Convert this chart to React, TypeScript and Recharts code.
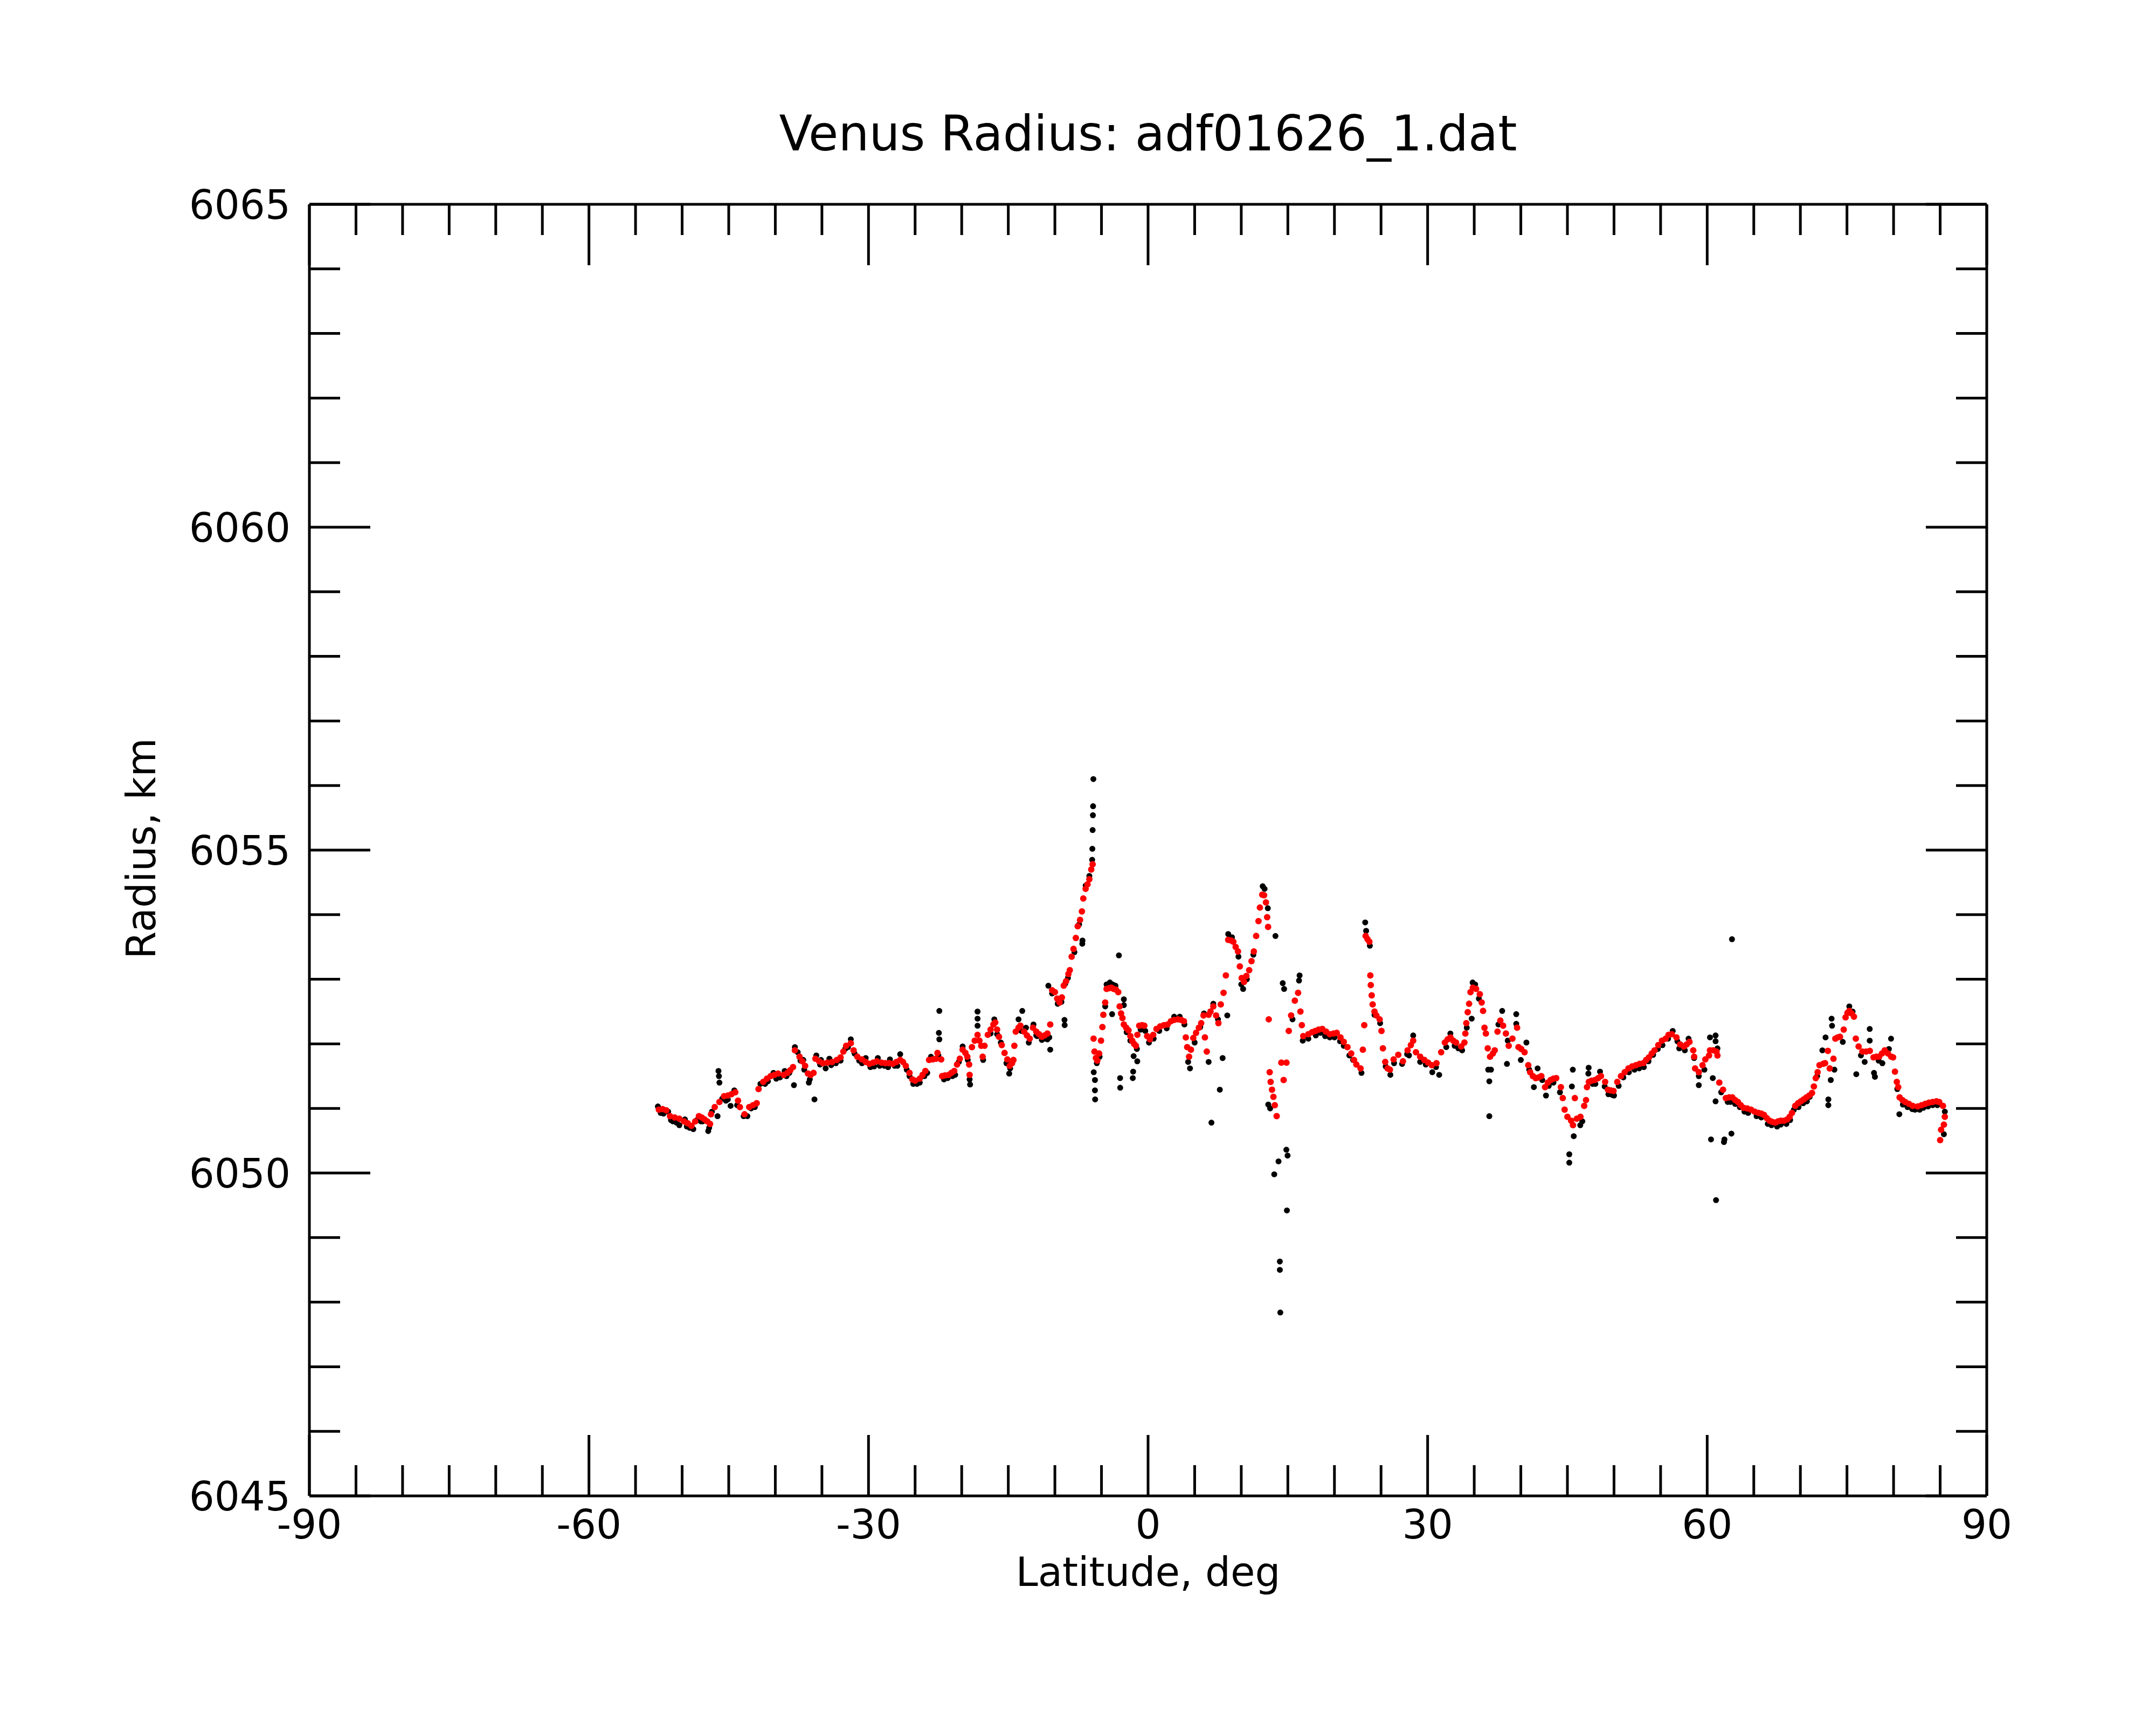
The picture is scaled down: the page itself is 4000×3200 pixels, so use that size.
import React from "react";
import { ScatterChart, Scatter, XAxis, YAxis } from "recharts";

// smoothed radius (red) as [latitude, radius km]
const smoothPoints: [number, number][] = [
  [-52.5, 6050.98], [-52.1, 6050.99], [-51.7, 6050.97], [-51.3, 6050.88], [-50.8, 6050.86],
  [-50.3, 6050.84], [-49.8, 6050.8], [-49.4, 6050.77], [-49.0, 6050.73], [-48.6, 6050.8],
  [-48.2, 6050.88], [-47.9, 6050.86], [-47.6, 6050.83], [-47.3, 6050.8], [-47.0, 6050.76],
  [-46.9, 6050.91], [-46.5, 6051.02], [-46.0, 6051.1], [-45.5, 6051.19], [-45.1, 6051.2],
  [-44.7, 6051.22], [-44.3, 6051.25], [-44.0, 6051.12], [-43.8, 6051.02], [-43.3, 6050.91],
  [-42.8, 6051.02], [-42.4, 6051.05], [-42.0, 6051.08], [-41.8, 6051.3], [-41.3, 6051.41],
  [-40.9, 6051.46], [-40.5, 6051.5], [-40.1, 6051.52], [-39.7, 6051.54], [-39.1, 6051.52],
  [-38.7, 6051.55], [-38.4, 6051.59], [-38.1, 6051.64], [-37.9, 6051.9], [-37.4, 6051.8],
  [-37.1, 6051.73], [-36.8, 6051.66], [-36.5, 6051.54], [-36.2, 6051.52], [-35.9, 6051.55],
  [-35.7, 6051.77], [-35.3, 6051.73], [-34.9, 6051.7], [-34.4, 6051.71], [-33.9, 6051.72],
  [-33.4, 6051.75], [-33.0, 6051.79], [-32.7, 6051.88], [-32.4, 6051.97], [-31.9, 6052.01],
  [-31.6, 6051.9], [-31.2, 6051.8], [-30.7, 6051.76], [-30.3, 6051.72], [-29.9, 6051.69],
  [-29.5, 6051.71], [-29.1, 6051.73], [-28.6, 6051.71], [-28.2, 6051.7], [-27.8, 6051.7],
  [-27.4, 6051.69], [-27.0, 6051.72], [-26.6, 6051.75], [-26.3, 6051.72], [-26.0, 6051.66],
  [-25.6, 6051.55], [-25.3, 6051.45], [-25.0, 6051.43], [-24.5, 6051.46], [-24.2, 6051.52],
  [-23.9, 6051.58], [-23.5, 6051.75], [-23.1, 6051.76], [-22.75, 6051.77], [-22.6, 6051.86],
  [-22.2, 6051.76], [-22.1, 6051.5], [-21.8, 6051.51], [-21.4, 6051.52], [-21.1, 6051.55],
  [-20.8, 6051.58], [-20.5, 6051.68], [-20.2, 6051.77], [-19.9, 6051.91], [-19.6, 6051.86],
  [-19.4, 6051.8], [-19.2, 6051.68], [-19.15, 6051.52], [-18.9, 6051.95], [-18.6, 6052.05],
  [-18.3, 6052.14], [-18.1, 6052.05], [-17.9, 6051.97], [-17.75, 6051.8], [-17.55, 6051.97],
  [-17.2, 6052.14], [-16.9, 6052.22], [-16.6, 6052.3], [-16.4, 6052.33], [-16.2, 6052.22],
  [-16.0, 6052.11], [-15.7, 6051.98], [-15.4, 6051.86], [-15.1, 6051.76], [-14.85, 6051.66],
  [-14.6, 6051.7], [-14.45, 6051.75], [-14.35, 6051.97], [-14.2, 6052.19], [-13.9, 6052.25],
  [-13.7, 6052.28], [-13.3, 6052.19], [-13.0, 6052.13], [-12.7, 6052.08], [-12.35, 6052.25],
  [-12.0, 6052.19], [-11.7, 6052.15], [-11.4, 6052.11], [-11.1, 6052.13], [-10.8, 6052.16],
  [-10.5, 6052.3], [-10.3, 6052.83], [-10.0, 6052.8], [-9.75, 6052.7], [-9.5, 6052.64],
  [-9.25, 6052.72], [-9.05, 6052.9], [-8.8, 6052.97], [-8.55, 6053.08], [-8.4, 6053.14],
  [-8.2, 6053.35], [-8.0, 6053.47], [-7.75, 6053.64], [-7.55, 6053.82], [-7.3, 6053.92],
  [-7.1, 6054.05], [-6.95, 6054.25], [-6.7, 6054.4], [-6.5, 6054.47], [-6.3, 6054.55],
  [-6.1, 6054.7], [-5.95, 6054.78], [-5.85, 6052.08], [-5.75, 6051.88], [-5.6, 6051.78],
  [-5.45, 6051.74], [-5.25, 6051.85], [-5.05, 6052.05], [-4.9, 6052.26], [-4.8, 6052.45],
  [-4.6, 6052.64], [-4.45, 6052.85], [-4.2, 6052.86], [-3.95, 6052.87], [-3.7, 6052.85],
  [-3.45, 6052.84], [-3.2, 6052.8], [-3.05, 6052.58], [-2.9, 6052.47], [-2.75, 6052.4],
  [-2.6, 6052.3], [-2.35, 6052.25], [-2.1, 6052.21], [-1.9, 6052.12], [-1.7, 6052.05],
  [-1.5, 6052.0], [-1.3, 6051.97], [-1.15, 6052.14], [-0.95, 6052.28], [-0.65, 6052.29],
  [-0.4, 6052.28], [-0.1, 6052.12], [0.2, 6052.07], [0.55, 6052.14], [0.9, 6052.23],
  [1.3, 6052.27], [1.7, 6052.29], [2.1, 6052.3], [2.45, 6052.35], [2.8, 6052.37],
  [3.2, 6052.38], [3.55, 6052.37], [3.85, 6052.35], [4.05, 6052.1], [4.2, 6051.95],
  [4.4, 6051.8], [4.6, 6051.91], [4.85, 6052.09], [5.15, 6052.17], [5.45, 6052.25],
  [5.7, 6052.32], [5.95, 6052.44], [6.1, 6052.1], [6.3, 6051.88], [6.5, 6052.45],
  [6.7, 6052.5], [7.0, 6052.58], [7.3, 6052.44], [7.55, 6052.32], [7.8, 6052.61],
  [8.1, 6052.79], [8.35, 6053.06], [8.6, 6053.61], [8.9, 6053.6], [9.15, 6053.58],
  [9.4, 6053.5], [9.65, 6053.43], [9.85, 6053.2], [10.05, 6053.02], [10.3, 6052.96],
  [10.55, 6053.05], [10.85, 6053.14], [11.1, 6053.28], [11.35, 6053.43], [11.6, 6053.67],
  [11.85, 6053.9], [12.0, 6054.11], [12.25, 6054.31], [12.45, 6054.3], [12.65, 6054.19],
  [12.78, 6053.96], [12.88, 6053.81], [12.95, 6052.38], [13.05, 6051.56], [13.15, 6051.41],
  [13.3, 6051.29], [13.45, 6051.18], [13.6, 6051.05], [13.8, 6050.88], [14.3, 6051.71],
  [14.55, 6051.44], [14.85, 6051.71], [15.1, 6052.2], [15.35, 6052.44], [15.75, 6052.67],
  [16.1, 6052.79], [16.35, 6052.5], [16.5, 6052.29], [16.65, 6052.12], [17.2, 6052.15],
  [17.6, 6052.18], [17.95, 6052.2], [18.3, 6052.22], [18.7, 6052.23], [19.1, 6052.19],
  [19.5, 6052.15], [19.9, 6052.16], [20.25, 6052.17], [20.65, 6052.1], [21.0, 6052.03],
  [21.4, 6051.95], [21.8, 6051.85], [22.1, 6051.75], [22.35, 6051.68], [22.8, 6051.62],
  [23.05, 6051.91], [23.2, 6052.29], [23.35, 6053.67], [23.55, 6053.62], [23.75, 6053.58],
  [23.85, 6053.06], [23.9, 6052.91], [24.0, 6052.75], [24.1, 6052.61], [24.3, 6052.5],
  [24.5, 6052.44], [24.85, 6052.38], [25.05, 6052.2], [25.2, 6051.93], [25.45, 6051.72],
  [25.7, 6051.62], [25.95, 6051.6], [26.35, 6051.76], [26.85, 6051.83], [27.35, 6051.73],
  [27.85, 6051.9], [28.2, 6051.98], [28.45, 6052.05], [28.75, 6051.87], [29.2, 6051.8],
  [29.65, 6051.75], [30.05, 6051.71], [30.45, 6051.67], [30.95, 6051.7], [31.45, 6051.87],
  [31.85, 6052.02], [32.15, 6052.07], [32.45, 6052.1], [32.75, 6052.05], [33.05, 6052.02],
  [33.6, 6051.96], [33.95, 6052.02], [34.05, 6052.16], [34.15, 6052.32], [34.3, 6052.49],
  [34.45, 6052.62], [34.6, 6052.8], [34.85, 6052.87], [35.2, 6052.85], [35.6, 6052.77],
  [35.8, 6052.64], [35.95, 6052.51], [36.1, 6052.25], [36.25, 6052.16], [36.45, 6051.93],
  [36.7, 6051.8], [37.0, 6051.85], [37.2, 6051.9], [37.5, 6052.19], [37.8, 6052.36],
  [38.1, 6052.28], [38.4, 6052.16], [38.7, 6051.97], [39.1, 6052.08], [39.6, 6052.25],
  [39.75, 6051.95], [40.05, 6051.92], [40.4, 6051.87], [40.8, 6051.67], [41.0, 6051.56],
  [41.3, 6051.5], [41.6, 6051.47], [41.9, 6051.48], [42.2, 6051.5], [42.6, 6051.33],
  [42.9, 6051.4], [43.2, 6051.44], [43.5, 6051.46], [43.8, 6051.47], [44.3, 6051.33],
  [44.5, 6051.16], [44.7, 6050.98], [45.0, 6050.87], [45.4, 6050.81], [45.6, 6050.74],
  [45.8, 6051.16], [46.0, 6050.84], [46.4, 6050.87], [46.8, 6051.04], [47.0, 6051.13],
  [47.1, 6051.33], [47.3, 6051.41], [47.6, 6051.43], [47.95, 6051.44], [48.3, 6051.47],
  [48.6, 6051.5], [49.05, 6051.41], [49.35, 6051.29], [49.65, 6051.28], [49.95, 6051.27],
  [50.35, 6051.41], [50.75, 6051.5], [51.15, 6051.56], [51.55, 6051.62], [51.95, 6051.65],
  [52.35, 6051.67], [52.75, 6051.69], [53.15, 6051.7], [53.45, 6051.75], [53.75, 6051.79],
  [54.05, 6051.85], [54.35, 6051.9], [54.75, 6051.98], [55.15, 6052.05], [55.55, 6052.08],
  [55.85, 6052.14], [56.2, 6052.15], [56.7, 6052.1], [57.1, 6051.99], [57.5, 6051.96],
  [57.8, 6051.99], [58.1, 6052.03], [58.5, 6051.9], [58.6, 6051.8], [58.7, 6051.62],
  [59.1, 6051.56], [59.5, 6051.67], [59.8, 6051.76], [60.2, 6051.82], [60.3, 6051.9],
  [60.65, 6051.9], [61.0, 6051.88], [61.1, 6051.82], [61.3, 6051.4], [61.7, 6051.29],
  [62.0, 6051.16], [62.35, 6051.17], [62.7, 6051.17], [63.0, 6051.13], [63.3, 6051.1],
  [63.6, 6051.05], [63.9, 6051.01], [64.3, 6051.0], [64.7, 6050.98], [65.1, 6050.95],
  [65.5, 6050.93], [65.8, 6050.92], [66.1, 6050.9], [66.4, 6050.85], [66.7, 6050.81],
  [67.0, 6050.79], [67.3, 6050.78], [67.6, 6050.8], [67.9, 6050.81], [68.25, 6050.81],
  [68.6, 6050.83], [68.85, 6050.87], [69.1, 6050.93], [69.45, 6051.04], [69.75, 6051.08],
  [70.05, 6051.11], [70.35, 6051.14], [70.65, 6051.17], [70.95, 6051.2], [71.25, 6051.24],
  [71.45, 6051.34], [71.65, 6051.47], [71.85, 6051.56], [72.05, 6051.67], [72.45, 6051.69],
  [72.65, 6051.7], [72.95, 6051.89], [73.15, 6051.62], [73.55, 6051.77], [73.75, 6052.08],
  [74.0, 6052.1], [74.25, 6052.11], [74.65, 6052.22], [74.85, 6052.41], [75.05, 6052.48],
  [75.25, 6052.51], [75.5, 6052.47], [75.75, 6052.42], [75.95, 6052.08], [76.25, 6051.96],
  [76.65, 6051.88], [77.05, 6051.88], [77.45, 6051.89], [77.85, 6051.79], [78.15, 6051.8],
  [78.45, 6051.8], [78.75, 6051.85], [79.05, 6051.9], [79.4, 6051.85], [79.75, 6051.8],
  [79.95, 6051.79], [80.15, 6051.57], [80.35, 6051.41], [80.5, 6051.33], [80.65, 6051.17],
  [80.95, 6051.13], [81.25, 6051.1], [81.65, 6051.07], [82.05, 6051.04], [82.6, 6051.03],
  [83.0, 6051.05], [83.4, 6051.07], [83.8, 6051.09], [84.2, 6051.1], [84.6, 6051.11],
  [84.9, 6051.1], [85.3, 6051.04], [85.5, 6050.87], [85.4, 6050.75], [85.1, 6050.67],
  [85.0, 6050.51],
];

// raw radius (black) as [latitude, radius km]
const rawPoints: [number, number][] = [
  [-52.6, 6051.03], [-52.3, 6050.93], [-52.0, 6050.92], [-51.5, 6050.95], [-51.2, 6050.82],
  [-51.0, 6050.8], [-50.6, 6050.78], [-50.3, 6050.74], [-49.7, 6050.83], [-49.5, 6050.72],
  [-49.2, 6050.7], [-48.8, 6050.68], [-48.4, 6050.82], [-48.0, 6050.8], [-47.8, 6050.8],
  [-47.2, 6050.65], [-47.1, 6050.7], [-46.8, 6050.95], [-46.2, 6050.88], [-46.1, 6051.58],
  [-46.05, 6051.5], [-46.0, 6051.4], [-45.7, 6051.15], [-45.3, 6051.12], [-45.1, 6051.14],
  [-44.8, 6051.04], [-44.4, 6051.28], [-44.1, 6051.05], [-43.4, 6050.88], [-43.0, 6050.88],
  [-42.6, 6051.0], [-42.2, 6051.02], [-41.6, 6051.38], [-41.1, 6051.38], [-40.8, 6051.42],
  [-40.2, 6051.55], [-39.9, 6051.46], [-39.5, 6051.48], [-39.0, 6051.58], [-38.8, 6051.5],
  [-38.5, 6051.55], [-38.0, 6051.36], [-37.9, 6051.95], [-37.6, 6051.87], [-37.3, 6051.74],
  [-37.0, 6051.75], [-36.9, 6051.6], [-36.4, 6051.4], [-36.3, 6051.45], [-35.8, 6051.14],
  [-35.6, 6051.82], [-35.2, 6051.68], [-35.1, 6051.75], [-34.6, 6051.62], [-34.2, 6051.77],
  [-34.0, 6051.67], [-33.5, 6051.7], [-33.0, 6051.74], [-32.5, 6051.92], [-32.2, 6051.95],
  [-31.9, 6052.07], [-31.5, 6051.85], [-31.0, 6051.74], [-30.7, 6051.7], [-30.3, 6051.78],
  [-29.8, 6051.64], [-29.4, 6051.65], [-29.0, 6051.78], [-28.8, 6051.66], [-28.3, 6051.66],
  [-27.9, 6051.64], [-27.7, 6051.76], [-27.2, 6051.66], [-26.9, 6051.66], [-26.6, 6051.84],
  [-25.9, 6051.6], [-25.6, 6051.5], [-25.2, 6051.38], [-24.8, 6051.38], [-24.5, 6051.4],
  [-24.0, 6051.5], [-23.7, 6051.55], [-23.3, 6051.8], [-22.4, 6052.51], [-22.45, 6052.17],
  [-22.4, 6052.07], [-22.5, 6051.82], [-21.9, 6051.45], [-21.5, 6051.47], [-21.0, 6051.5],
  [-20.7, 6051.52], [-20.3, 6051.72], [-19.9, 6051.96], [-19.35, 6051.75], [-19.1, 6051.37],
  [-19.15, 6051.45], [-18.3, 6052.5], [-18.3, 6052.39], [-18.3, 6052.28], [-17.7, 6051.75],
  [-16.9, 6052.16], [-16.5, 6052.38], [-16.2, 6052.15], [-15.8, 6052.02], [-15.2, 6051.7],
  [-14.9, 6051.54], [-14.8, 6051.62], [-13.9, 6052.38], [-13.6, 6052.2], [-13.5, 6052.51],
  [-13.1, 6052.25], [-12.8, 6052.02], [-12.3, 6052.3], [-12.0, 6052.13], [-11.9, 6052.12],
  [-11.4, 6052.06], [-11.1, 6052.08], [-10.8, 6052.07], [-10.6, 6052.1], [-10.5, 6051.91],
  [-10.7, 6052.9], [-10.3, 6052.78], [-9.7, 6052.62], [-9.3, 6052.65], [-8.97, 6052.37],
  [-8.95, 6052.29], [-8.9, 6052.93], [-8.6, 6053.02], [-7.9, 6053.42], [-7.4, 6053.85],
  [-7.04, 6053.6], [-7.06, 6053.55], [-6.7, 6054.45], [-6.3, 6054.6], [-6.0, 6054.85],
  [-5.98, 6055.02], [-5.95, 6055.31], [-5.92, 6055.54], [-5.9, 6055.68], [-5.87, 6056.1],
  [-5.83, 6051.56], [-5.7, 6051.44], [-5.7, 6051.28], [-5.68, 6051.14], [-5.5, 6051.7],
  [-5.2, 6051.8], [-4.6, 6052.58], [-4.45, 6052.92], [-4.1, 6052.95], [-3.8, 6052.92],
  [-3.5, 6052.9], [-3.86, 6052.46], [-3.13, 6053.37], [-3.0, 6051.47], [-2.99, 6051.32],
  [-2.6, 6052.69], [-2.6, 6052.6], [-2.3, 6052.18], [-1.9, 6052.05], [-1.64, 6051.47],
  [-1.6, 6051.57], [-1.55, 6051.81], [-1.16, 6051.73], [-1.2, 6051.92], [-0.8, 6052.22],
  [-0.3, 6052.2], [0.1, 6052.02], [0.6, 6052.08], [1.2, 6052.2], [2.0, 6052.24],
  [2.8, 6052.42], [3.4, 6052.42], [3.9, 6052.3], [4.3, 6051.72], [4.5, 6051.62],
  [5.0, 6052.02], [5.6, 6052.26], [6.0, 6052.47], [6.5, 6051.72], [6.8, 6050.78],
  [7.0, 6052.62], [7.5, 6052.38], [7.7, 6051.29], [8.0, 6051.78], [8.5, 6052.44],
  [8.6, 6053.7], [9.0, 6053.65], [9.7, 6053.35], [10.0, 6052.92], [10.2, 6052.85],
  [10.6, 6053.0], [11.3, 6053.38], [12.3, 6054.44], [12.5, 6054.4], [12.85, 6054.1],
  [13.67, 6053.67], [12.9, 6051.06], [13.1, 6051.0], [13.54, 6049.98], [14.0, 6050.18],
  [14.84, 6050.36], [14.97, 6050.27], [14.9, 6049.42], [14.14, 6048.63], [14.14, 6048.5],
  [14.19, 6047.84], [14.45, 6052.94], [14.6, 6052.85], [16.26, 6053.06], [16.2, 6052.98],
  [15.5, 6052.38], [16.6, 6052.05], [17.2, 6052.08], [18.0, 6052.13], [18.5, 6052.17],
  [19.0, 6052.12], [19.5, 6052.1], [20.0, 6052.1], [20.6, 6052.04], [21.0, 6051.97],
  [21.6, 6051.82], [22.0, 6051.75], [22.9, 6051.55], [23.3, 6053.88], [23.4, 6053.75],
  [23.8, 6053.52], [24.3, 6052.45], [24.9, 6052.32], [25.5, 6051.65], [26.0, 6051.52],
  [26.4, 6051.7], [27.26, 6051.69], [27.8, 6051.84], [28.0, 6051.82], [28.45, 6052.13],
  [29.2, 6051.72], [29.8, 6051.68], [30.5, 6051.56], [30.9, 6051.64], [31.24, 6051.52],
  [32.0, 6051.95], [32.44, 6052.16], [32.9, 6051.97], [33.3, 6051.93], [33.7, 6051.9],
  [34.2, 6052.25], [34.73, 6052.39], [34.83, 6052.95], [35.1, 6052.92], [35.5, 6052.7],
  [36.62, 6050.88], [36.62, 6051.42], [36.5, 6051.6], [36.8, 6051.6], [37.6, 6052.3],
  [38.0, 6052.51], [38.51, 6051.69], [38.6, 6052.05], [39.51, 6052.46], [39.51, 6052.31],
  [40.0, 6051.75], [40.6, 6052.02], [40.9, 6051.6], [41.4, 6051.33], [41.8, 6051.62],
  [42.3, 6051.44], [42.7, 6051.2], [43.0, 6051.35], [43.5, 6051.4], [44.2, 6051.25],
  [45.2, 6050.29], [45.2, 6050.16], [45.68, 6050.57], [45.48, 6051.34], [45.58, 6051.6],
  [46.38, 6050.74], [46.6, 6050.8], [47.28, 6051.63], [47.25, 6051.54], [47.7, 6051.38],
  [48.0, 6051.38], [48.5, 6051.57], [49.0, 6051.34], [49.4, 6051.22], [49.8, 6051.21],
  [50.0, 6051.2], [50.5, 6051.35], [51.0, 6051.48], [51.6, 6051.56], [52.2, 6051.6],
  [52.7, 6051.62], [53.2, 6051.64], [53.7, 6051.73], [54.2, 6051.83], [54.7, 6051.92],
  [55.2, 6051.98], [55.8, 6052.08], [56.3, 6052.2], [56.8, 6052.04], [57.0, 6051.93],
  [57.6, 6051.9], [58.0, 6052.08], [58.6, 6051.78], [59.1, 6051.36], [59.1, 6051.5],
  [59.7, 6051.6], [60.3, 6052.1], [60.9, 6052.13], [60.9, 6052.04], [61.1, 6051.93],
  [60.6, 6051.47], [60.9, 6051.11], [60.41, 6050.52], [60.95, 6049.58], [61.8, 6050.48],
  [61.85, 6050.52], [62.6, 6050.61], [62.66, 6053.62], [61.5, 6051.25], [62.2, 6051.1],
  [62.5, 6051.1], [63.0, 6051.07], [63.5, 6051.02], [64.0, 6050.95], [64.4, 6050.93],
  [65.3, 6050.88], [65.8, 6050.86], [66.5, 6050.76], [66.9, 6050.74], [67.5, 6050.72],
  [67.9, 6050.75], [68.5, 6050.76], [68.9, 6050.82], [69.3, 6050.98], [69.8, 6051.02],
  [70.3, 6051.08], [70.7, 6051.11], [71.0, 6051.18], [71.8, 6051.5], [72.36, 6051.9],
  [72.7, 6052.1], [73.0, 6051.14], [73.0, 6051.05], [73.26, 6051.44], [73.35, 6052.39],
  [73.4, 6052.28], [73.65, 6051.6], [74.55, 6052.03], [75.25, 6052.58], [75.6, 6052.5],
  [76.0, 6051.53], [76.5, 6051.82], [76.9, 6051.72], [77.44, 6052.23], [77.44, 6052.05],
  [77.9, 6051.55], [78.0, 6051.49], [78.4, 6051.74], [78.8, 6051.7], [79.73, 6052.08],
  [79.5, 6051.92], [80.62, 6050.91], [80.4, 6051.3], [81.0, 6051.06], [81.5, 6051.02],
  [82.0, 6050.99], [82.3, 6050.98], [82.8, 6050.98], [83.2, 6051.01], [83.7, 6051.03],
  [84.2, 6051.05], [84.7, 6051.05], [85.4, 6050.6], [85.5, 6050.95],
];

const xTicks = [-90, -85, -80, -75, -70, -65, -60, -55, -50, -45, -40, -35, -30, -25, -20, -15, -10, -5,
  0, 5, 10, 15, 20, 25, 30, 35, 40, 45, 50, 55, 60, 65, 70, 75, 80, 85, 90];
const yTicks = [6045, 6046, 6047, 6048, 6049, 6050, 6051, 6052, 6053, 6054, 6055,
  6056, 6057, 6058, 6059, 6060, 6061, 6062, 6063, 6064, 6065];

const FONT = "DejaVu Sans";
const MINOR = 57;
const MAJOR = 113;

const rawData = rawPoints.map(([lat, r]) => ({ lat, r }));
const smoothData = smoothPoints.map(([lat, r]) => ({ lat, r }));

const XTick = (props: any) => {
  const { x, y, payload, side } = props;
  const v = payload.value;
  const major = v % 30 === 0;
  const len = major ? MAJOR : MINOR;
  const dir = side === "top" ? 1 : -1;
  return (
    <g>
      <line x1={x} y1={y} x2={x} y2={y + dir * len} stroke="#000" strokeWidth={5} />
      {side === "bottom" && major && (
        <text x={x} y={y + 79} textAnchor="middle" fontFamily={FONT} fontSize={74} fill="#000">
          {v}
        </text>
      )}
    </g>
  );
};

const YTick = (props: any) => {
  const { x, y, payload, side } = props;
  const v = payload.value;
  const major = v % 5 === 0;
  const len = major ? MAJOR : MINOR;
  const dir = side === "left" ? 1 : -1;
  return (
    <g>
      <line x1={x} y1={y} x2={x + dir * len} y2={y} stroke="#000" strokeWidth={5} />
      {side === "left" && major && (
        <text x={x - 35} y={y + 27} textAnchor="end" fontFamily={FONT} fontSize={74} fill="#000">
          {v}
        </text>
      )}
    </g>
  );
};

const dot = (color: string, r: number) => (p: any) =>
  <circle cx={p.cx} cy={p.cy} r={r} fill={color} />;

const nothing = () => <g />;

export default function App() {
  const W = 3984;
  const H = 3184;
  return (
    <div style={{ position: "relative", width: W, height: H, background: "#fff" }}>
      <ScatterChart
        width={W}
        height={H}
        margin={{ top: 321, right: 256, bottom: 317, left: 366 }}
      >
        <XAxis
          xAxisId="b"
          dataKey="lat"
          type="number"
          domain={[-90, 90]}
          ticks={xTicks}
          interval={0}
          height={100}
          tickSize={0}
          tickMargin={0}
          tickLine={false}
          axisLine={{ stroke: "#000", strokeWidth: 5 }}
          tick={(p: any) => <XTick {...p} side="bottom" />}
        />
        <XAxis
          xAxisId="t"
          orientation="top"
          dataKey="lat"
          type="number"
          domain={[-90, 90]}
          ticks={xTicks}
          interval={0}
          height={50}
          tickSize={0}
          tickMargin={0}
          tickLine={false}
          axisLine={{ stroke: "#000", strokeWidth: 5 }}
          tick={(p: any) => <XTick {...p} side="top" />}
        />
        <YAxis
          yAxisId="l"
          dataKey="r"
          type="number"
          domain={[6045, 6065]}
          ticks={yTicks}
          interval={0}
          width={200}
          tickSize={0}
          tickMargin={0}
          tickLine={false}
          axisLine={{ stroke: "#000", strokeWidth: 5 }}
          tick={(p: any) => <YTick {...p} side="left" />}
        />
        <YAxis
          yAxisId="r"
          orientation="right"
          dataKey="r"
          type="number"
          domain={[6045, 6065]}
          ticks={yTicks}
          interval={0}
          width={50}
          tickSize={0}
          tickMargin={0}
          tickLine={false}
          axisLine={{ stroke: "#000", strokeWidth: 5 }}
          tick={(p: any) => <YTick {...p} side="right" />}
        />
        {/* invisible series so the top and right axes get their ticks */}
        <Scatter
          xAxisId="t"
          yAxisId="r"
          data={smoothData}
          shape={nothing}
          isAnimationActive={false}
        />
        <Scatter
          xAxisId="b"
          yAxisId="l"
          data={rawData}
          shape={dot("#000000", 5.5)}
          isAnimationActive={false}
        />
        <Scatter
          xAxisId="b"
          yAxisId="l"
          data={smoothData}
          shape={dot("#ff0000", 6)}
          isAnimationActive={false}
        />
      </ScatterChart>
      <svg
        width={W}
        height={H}
        style={{ position: "absolute", left: 0, top: 0, pointerEvents: "none" }}
      >
        <text x={2122} y={271} textAnchor="middle" fontFamily={FONT} fontSize={90} fill="#000">
          Venus Radius: adf01626_1.dat
        </text>
        <text x={2122} y={2934} textAnchor="middle" fontFamily={FONT} fontSize={74} fill="#000">
          Latitude, deg
        </text>
        <text
          x={280}
          y={1566}
          textAnchor="middle"
          fontFamily={FONT}
          fontSize={74}
          fill="#000"
          transform="rotate(-90 280 1566)"
        >
          Radius, km
        </text>
      </svg>
    </div>
  );
}
